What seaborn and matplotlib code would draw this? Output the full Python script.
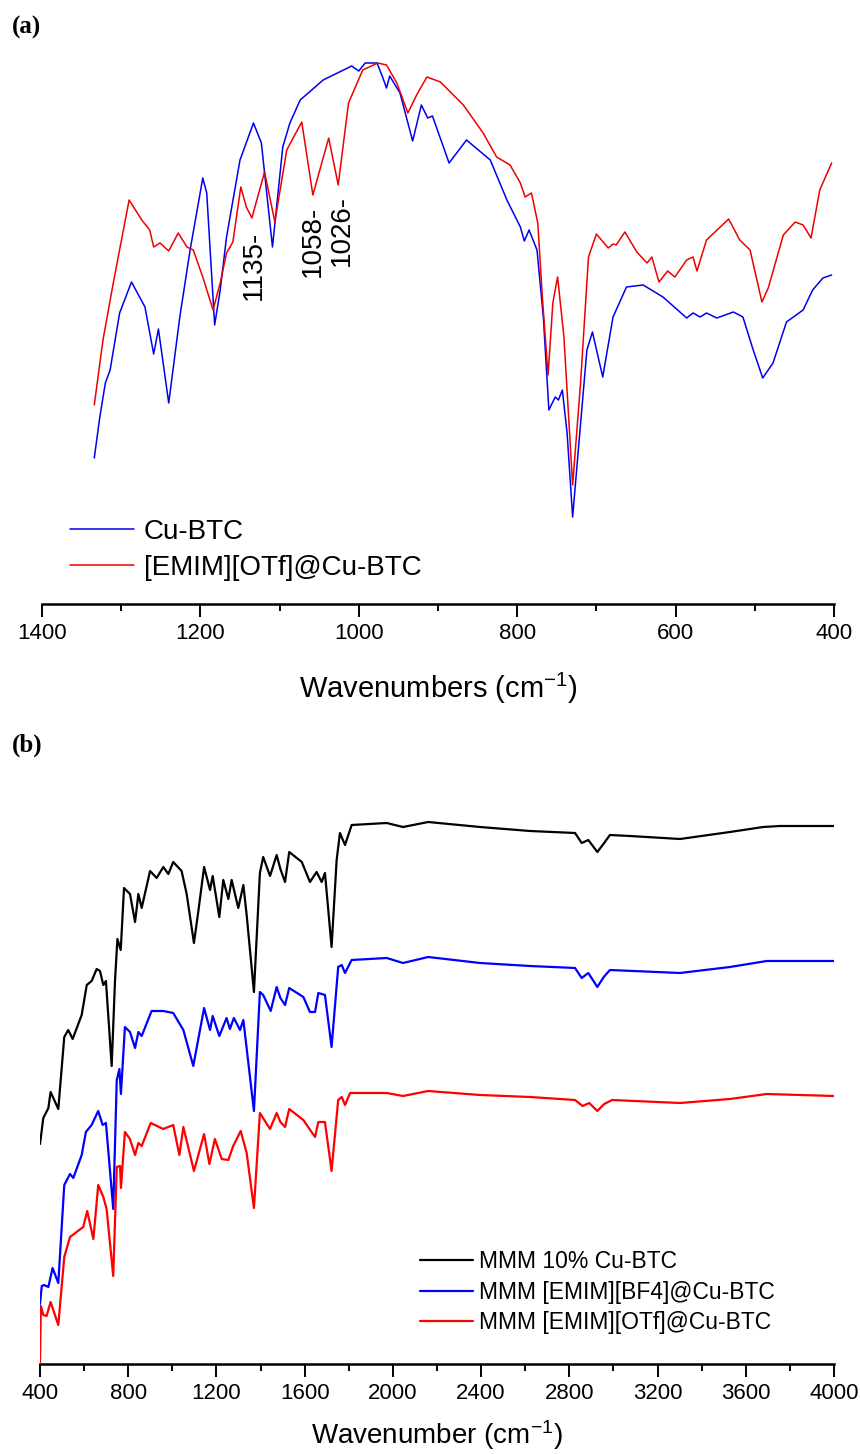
import pandas as pd
import seaborn as sns
import matplotlib.pyplot as plt
from matplotlib.ticker import MultipleLocator

# (a) Cu-BTC powders, 1400-400 cm-1, transmittance in arbitrary units
wn_cubtc = [1334, 1327, 1320, 1314, 1302, 1287, 1270, 1259, 1253, 1240, 1226, 1213, 1197, 1192, 1182,
            1175, 1167, 1150, 1133, 1123, 1109, 1096, 1087, 1074, 1045, 1009, 1000, 992, 977, 970,
            965, 961, 948, 932, 921, 913, 907, 886, 864, 834, 813, 796, 791, 785, 775,
            767, 760, 752, 748, 743, 737, 730, 721, 712, 705, 692, 679, 662, 641, 616,
            586, 578, 569, 561, 548, 527, 515, 502, 490, 477, 460, 439, 427, 414, 403]
t_cubtc = [146, 187, 221, 234, 291, 322, 297, 250, 275, 201, 287, 354, 426, 411, 279,
           314, 367, 444, 481, 461, 357, 457, 481, 504, 524, 538, 533, 541, 541, 527,
           516, 528, 511, 463, 499, 486, 488, 441, 464, 444, 404, 377, 363, 374, 354,
           287, 194, 207, 204, 214, 171, 87, 171, 254, 272, 227, 287, 317, 319, 307,
           286, 291, 287, 291, 286, 292, 287, 254, 226, 241, 282, 294, 314, 326, 329]

wn_otf = [1334, 1323, 1310, 1290, 1274, 1264, 1259, 1251, 1240, 1228, 1217, 1209, 1197, 1184, 1175,
          1167, 1159, 1149, 1142, 1135, 1119, 1106, 1091, 1072, 1058, 1038, 1026, 1013, 995, 976,
          965, 952, 938, 927, 914, 897, 868, 843, 826, 809, 796, 790, 782, 774, 768,
          761, 755, 749, 741, 730, 720, 710, 700, 685, 679, 675, 664, 649, 636, 630,
          621, 610, 601, 586, 578, 573, 561, 533, 519, 506, 491, 483, 464, 449, 439,
          429, 418, 403]
t_otf = [199, 264, 321, 404, 384, 374, 357, 361, 353, 371, 357, 354, 327, 294, 321,
         351, 362, 417, 397, 386, 432, 382, 454, 482, 409, 466, 419, 501, 534, 541,
         539, 521, 491, 509, 527, 522, 499, 471, 447, 439, 421, 407, 411, 381, 304,
         229, 301, 327, 267, 119, 221, 347, 370, 356, 360, 359, 372, 352, 341, 347,
         322, 333, 327, 344, 347, 333, 364, 385, 364, 354, 302, 316, 369, 382, 379,
         366, 414, 441]

peak_pos = [1132, 1058, 1021]
peak_y = [339, 363, 374]
peak_txt = ["1135-", "1058-", "1026-"]

# (b) membranes, 400-4000 cm-1, offset spectra
wn_mmm = [400, 415, 438, 448, 483, 510, 528, 548, 589, 612, 634, 657, 672, 687, 699,
          725, 740, 751, 766, 781, 808, 831, 846, 861, 899, 929, 959, 982, 1004, 1042,
          1065, 1098, 1118, 1144, 1171, 1183, 1213, 1231, 1254, 1269, 1299, 1322, 1337, 1370, 1397,
          1412, 1443, 1473, 1490, 1511, 1530, 1587, 1624, 1654, 1677, 1692, 1722, 1745, 1760, 1783,
          1813, 1972, 2046, 2160, 2395, 2622, 2826, 2856, 2886, 2927, 2951, 2984, 3075, 3302, 3528,
          3679, 3755, 4000]
t_mmm = [220, 246, 256, 272, 255, 327, 334, 325, 349, 379, 383, 395, 393, 379, 383,
         298, 383, 425, 414, 476, 470, 442, 470, 456, 493, 486, 497, 490, 502, 493,
         470, 421, 453, 497, 474, 488, 447, 484, 465, 484, 456, 479, 449, 372, 491,
         507, 488, 509, 495, 482, 512, 502, 482, 492, 482, 491, 417, 504, 531, 519,
         539, 541, 537, 542, 537, 533, 531, 521, 524, 512, 519, 529, 528, 525, 532,
         537, 538, 538]

wn_bf4 = [400, 408, 418, 438, 457, 483, 510, 536, 551, 589, 608, 634, 664, 684, 699,
          732, 748, 760, 767, 785, 808, 831, 846, 861, 906, 959, 1004, 1050, 1095, 1144,
          1171, 1183, 1213, 1246, 1261, 1279, 1307, 1322, 1370, 1397, 1412, 1446, 1473, 1490, 1511,
          1530, 1594, 1624, 1647, 1662, 1692, 1722, 1752, 1768, 1783, 1813, 1972, 2046, 2160, 2395,
          2622, 2826, 2856, 2886, 2927, 2956, 2984, 3302, 3528, 3695, 4000]
t_bf4 = [60, 78, 79, 77, 96, 81, 179, 190, 186, 209, 232, 239, 253, 239, 241,
         155, 284, 295, 270, 337, 332, 316, 332, 328, 353, 353, 351, 334, 298, 356,
         334, 348, 328, 346, 335, 346, 334, 344, 253, 372, 369, 353, 377, 366, 359,
         376, 367, 352, 352, 371, 369, 317, 397, 399, 391, 404, 406, 401, 407, 401,
         398, 396, 386, 391, 377, 387, 394, 391, 397, 403, 403]

wn_otf_b = [400, 404, 415, 430, 448, 483, 510, 536, 566, 596, 614, 642, 664, 687, 702,
            732, 748, 763, 767, 785, 808, 831, 846, 861, 902, 959, 1004, 1032, 1050, 1098,
            1144, 1168, 1193, 1224, 1254, 1276, 1310, 1337, 1370, 1397, 1443, 1473, 1490, 1511, 1530,
            1594, 1647, 1662, 1692, 1722, 1752, 1768, 1783, 1806, 1972, 2046, 2160, 2395, 2622, 2826,
            2860, 2890, 2927, 2958, 2994, 3302, 3528, 3695, 4000]
t_otf_b = [2, 58, 49, 48, 62, 39, 107, 127, 132, 137, 153, 125, 179, 167, 155,
           88, 197, 198, 176, 232, 225, 209, 221, 218, 241, 235, 239, 209, 237, 193,
           230, 200, 225, 205, 204, 218, 233, 211, 156, 251, 235, 251, 242, 237, 255,
           244, 227, 242, 242, 193, 264, 267, 259, 271, 271, 268, 273, 269, 267, 264,
           258, 261, 253, 260, 264, 261, 265, 270, 268]

labels_a = ["Cu-BTC", "[EMIM][OTf]@Cu-BTC"]
labels_b = ["MMM 10% Cu-BTC", "MMM [EMIM][BF4]@Cu-BTC", "MMM [EMIM][OTf]@Cu-BTC"]


def spectrum(wn, t, name):
    return pd.DataFrame({"wavenumber": wn, "T": t, "sample": name})


sns.set_style("ticks")
plt.rcParams['font.family'] = ['Liberation Sans', 'DejaVu Sans']
plt.rcParams['mathtext.fontset'] = 'custom'
plt.rcParams['mathtext.rm'] = 'Liberation Sans'
plt.rcParams['mathtext.default'] = 'regular'
plt.rcParams['text.color'] = 'black'
plt.rcParams['axes.labelcolor'] = 'black'

W, H = 860, 1454
fig = plt.figure(figsize=(W / 100, H / 100), dpi=100)


def add_ax(left, right, top, bottom):
    # axes placed in pixel coordinates of the final image
    return fig.add_axes([left / W, 1 - bottom / H, (right - left) / W, (bottom - top) / H])


ax_a = add_ax(42, 834, 50, 604)
ax_b = add_ax(40, 834, 780, 1364)

df_a = pd.concat([spectrum(wn_cubtc, t_cubtc, labels_a[0]),
                  spectrum(wn_otf, t_otf, labels_a[1])])
sns.lineplot(data=df_a, x="wavenumber", y="T", hue="sample", hue_order=labels_a,
             palette=["#0000ee", "#ee0000"], estimator=None, linewidth=1.1, ax=ax_a)

df_b = pd.concat([spectrum(wn_mmm, t_mmm, labels_b[0]),
                  spectrum(wn_bf4, t_bf4, labels_b[1]),
                  spectrum(wn_otf_b, t_otf_b, labels_b[2])])
sns.lineplot(data=df_b, x="wavenumber", y="T", hue="sample", hue_order=labels_b,
             palette=["#000000", "#0000ff", "#ff0000"], estimator=None, linewidth=1.6, ax=ax_b)

for txt, x, y in zip(peak_txt, peak_pos, peak_y):
    ax_a.text(x, y, txt, rotation=90, ha="center", va="center", fontsize=20)

ax_a.set_xlim(1400, 400)
ax_a.set_ylim(0, 554)
ax_a.xaxis.set_major_locator(MultipleLocator(200))
ax_a.xaxis.set_minor_locator(MultipleLocator(100))

ax_b.set_xlim(400, 4000)
ax_b.set_ylim(0, 584)
ax_b.xaxis.set_major_locator(MultipleLocator(400))
ax_b.xaxis.set_minor_locator(MultipleLocator(200))

for ax in (ax_a, ax_b):
    sns.despine(ax=ax, left=True)
    ax.set_facecolor("none")
    ax.set_yticks([])
    ax.set_ylabel("")
    ax.spines["bottom"].set_linewidth(1.8)
    ax.spines["bottom"].set_color("black")
    ax.tick_params(axis="x", which="major", length=9, width=1.4, direction="out",
                   labelsize=16, pad=4.5, colors="black")
    ax.tick_params(axis="x", which="minor", length=5, width=1.4, direction="out", colors="black")

ax_a.set_xlabel("Wavenumbers (cm$^{-1}$)", fontsize=21, va="center")
ax_a.xaxis.set_label_coords(0.5, -(688 - 604) / 554)
ax_b.set_xlabel("Wavenumber (cm$^{-1}$)", fontsize=20, va="center")
ax_b.xaxis.set_label_coords(0.5, -(1435 - 1364) / 584)

sns.move_legend(ax_a, "upper left", bbox_to_anchor=(70 / W, 1 - 519 / H),
                bbox_transform=fig.transFigure, frameon=False, title=None, fontsize=20,
                handlelength=2.3, handletextpad=0.36, labelspacing=0.35,
                borderpad=0, borderaxespad=0)
sns.move_legend(ax_b, "upper left", bbox_to_anchor=(420 / W, 1 - 1250 / H),
                bbox_transform=fig.transFigure, frameon=False, title=None, fontsize=16.5,
                handlelength=2.3, handletextpad=0.27, labelspacing=0.33,
                borderpad=0, borderaxespad=0)

fig.text(12 / W, 1 - 27 / H, "(a)", family="Liberation Serif", weight="bold",
         fontsize=18, ha="left", va="center")
fig.text(12 / W, 1 - 745 / H, "(b)", family="Liberation Serif", weight="bold",
         fontsize=18, ha="left", va="center")

fig.savefig("out.png", dpi=100)
